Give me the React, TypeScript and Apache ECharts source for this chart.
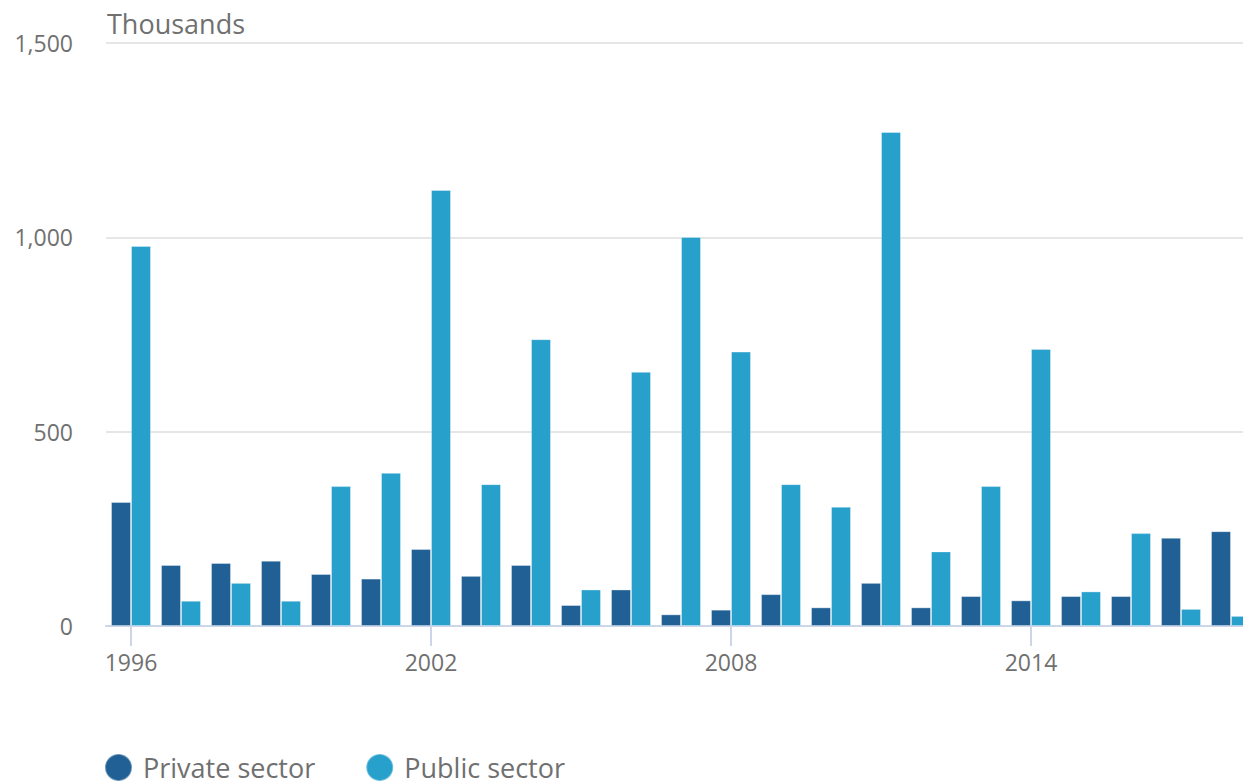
import React, { useEffect, useRef } from "react";
import * as echarts from "echarts";

const years = [
  "1996", "1997", "1998", "1999", "2000", "2001", "2002", "2003", "2004", "2005", "2006", "2007",
  "2008", "2009", "2010", "2011", "2012", "2013", "2014", "2015", "2016", "2017", "2018",
];
const privateSector = [319, 157, 162, 168, 134, 122, 198, 129, 157, 54, 94, 30, 42, 82, 48, 111, 48, 77, 66, 77, 77, 227, 244];
const publicSector = [978, 65, 111, 65, 360, 394, 1122, 365, 738, 94, 654, 1001, 706, 365, 307, 1271, 192, 360, 713, 89, 239, 44, 26];
const seriesNames = ["Private sector", "Public sector"];
const unitLabel = "Thousands";

const FONT = "'Open Sans', 'Noto Sans', sans-serif";
const TEXT = "#707070";

export default function App() {
  const ref = useRef<HTMLDivElement>(null);
  useEffect(() => {
    if (!ref.current) return;
    const chart = echarts.init(ref.current, undefined, { renderer: "svg" });
    chart.setOption({
      animation: false,
      textStyle: { fontFamily: FONT },
      graphic: [
        {
          type: "text",
          left: 107,
          top: 10,
          style: { text: unitLabel, fontSize: 27, fill: TEXT, fontFamily: FONT },
        },
      ],
      legend: {
        left: 99,
        top: 748,
        icon: "circle",
        itemWidth: 27,
        itemHeight: 27,
        itemGap: 50,
        textStyle: { fontSize: 27, color: TEXT, fontFamily: FONT, padding: [0, 0, 0, 6] },
        data: seriesNames,
      },
      grid: { left: 106, right: 0, top: 43, bottom: 157, containLabel: false },
      xAxis: {
        type: "category",
        data: years,
        axisLine: { lineStyle: { color: "#ccd6eb", width: 2 } },
        axisTick: {
          show: true,
          alignWithLabel: true,
          interval: 5,
          length: 20,
          lineStyle: { color: "#ccd6eb", width: 2 },
        },
        axisLabel: { interval: 5, fontSize: 23, color: TEXT, margin: 24, fontFamily: FONT },
      },
      yAxis: {
        type: "value",
        min: 0,
        max: 1500,
        interval: 500,
        axisLine: { show: false },
        axisTick: { show: false },
        splitLine: { lineStyle: { color: "#e6e6e6", width: 2 } },
        axisLabel: {
          fontSize: 23,
          color: TEXT,
          margin: 33,
          fontFamily: FONT,
          formatter: (v: number) => v.toLocaleString("en-US"),
        },
      },
      series: [
        {
          name: seriesNames[0],
          type: "bar",
          data: privateSector,
          barGap: "0%",
          barCategoryGap: "20%",
          itemStyle: { color: "#206095", borderColor: "rgba(255,255,255,0.35)", borderWidth: 1 },
        },
        {
          name: seriesNames[1],
          type: "bar",
          data: publicSector,
          barGap: "0%",
          barCategoryGap: "20%",
          itemStyle: { color: "#27a0cc", borderColor: "rgba(255,255,255,0.35)", borderWidth: 1 },
        },
      ],
    });
    return () => chart.dispose();
  }, []);
  return (
    <div style={{ position: "absolute", left: 0, top: 0, width: 1243, height: 783, overflow: "hidden" }}>
      <div ref={ref} style={{ width: 1256, height: 783 }} />
    </div>
  );
}
